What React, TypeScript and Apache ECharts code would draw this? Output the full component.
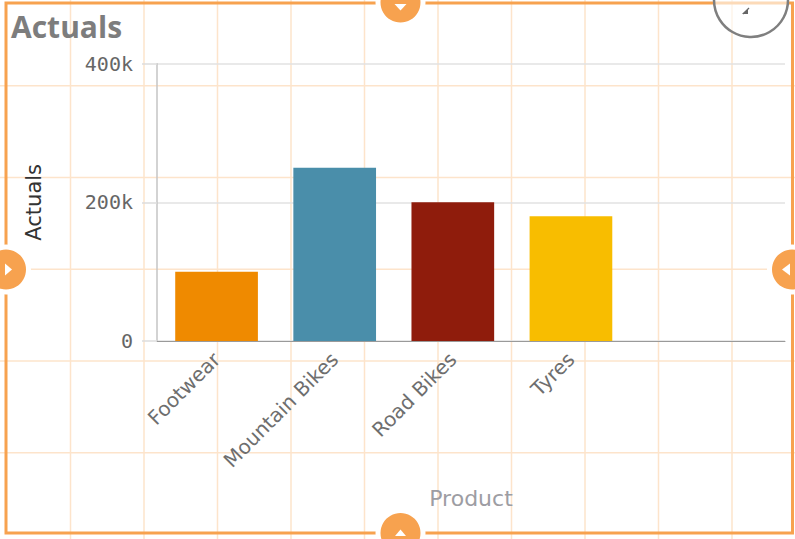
import React, { useEffect, useRef } from "react";
import * as echarts from "echarts";

const categories = ["Footwear", "Mountain Bikes", "Road Bikes", "Tyres"];
const actuals = [100000, 250000, 200000, 180000];
const barColors = ["#ef8a00", "#4a8eaa", "#8f1c0c", "#f8bd00"];
const yTicks = [0, 200000, 400000];

const W = 795;
const H = 539;
const ORANGE = "#f7a24f";
const GRIDORANGE = "#fde4cb";

function buildGraphics() {
  const g: any[] = [];
  // background editing grid
  for (let i = 0; i < 10; i++) {
    const x = 70.5 + i * 73.5;
    g.push({ type: "line", z: -100, silent: true, shape: { x1: x, y1: 0, x2: x, y2: H }, style: { stroke: GRIDORANGE, lineWidth: 1.5 } });
  }
  for (let i = 0; i < 5; i++) {
    const y = 85.7 + i * 91.75;
    g.push({ type: "line", z: -100, silent: true, shape: { x1: 0, y1: y, x2: W, y2: y }, style: { stroke: GRIDORANGE, lineWidth: 1.5 } });
  }
  // frame
  g.push({ type: "rect", z: 100, silent: true, shape: { x: 6, y: 3, width: 786.5, height: 530 }, style: { fill: "none", stroke: ORANGE, lineWidth: 3 } });
  // handles
  const handles = [
    { cx: 400.5, cy: 2.5, tri: [[394.5, 4], [406.5, 4], [400.5, 10.5]] },
    { cx: 400.5, cy: 533, tri: [[395, 536], [406, 536], [400.5, 529.5]] },
    { cx: 6, cy: 269.5, tri: [[5, 263.5], [5, 275.5], [12, 269.5]] },
    { cx: 792, cy: 269.5, tri: [[782, 269.5], [790, 263.5], [790, 275.5]] },
  ];
  handles.forEach((h) => {
    g.push({ type: "circle", z: 101, silent: true, shape: { cx: h.cx, cy: h.cy, r: 25 }, style: { fill: "#ffffff" } });
    g.push({ type: "circle", z: 102, silent: true, shape: { cx: h.cx, cy: h.cy, r: 20 }, style: { fill: ORANGE } });
    g.push({ type: "polygon", z: 103, silent: true, shape: { points: h.tri }, style: { fill: "#ffffff" } });
  });
  // top-right circle button
  g.push({ type: "circle", z: 104, silent: true, shape: { cx: 751, cy: 0, r: 37 }, style: { fill: "rgba(255,255,255,0.6)", stroke: "#7f7f7f", lineWidth: 2.5 } });
  g.push({ type: "polygon", z: 105, silent: true, shape: { points: [[742, 14], [748, 14], [748, 9]] }, style: { fill: "#666666" } });
  g.push({ type: "line", z: 105, silent: true, shape: { x1: 743, y1: 14, x2: 749, y2: 8 }, style: { stroke: "#666666", lineWidth: 1.2 } });
  return g;
}

export default function App() {
  const ref = useRef<HTMLDivElement>(null);
  useEffect(() => {
    if (!ref.current) return;
    const chart = echarts.init(ref.current, undefined, { renderer: "svg" });
    const fmt = (v: number) => (v === 0 ? "0" : v / 1000 + "k");
    chart.setOption({
      animation: false,
      backgroundColor: "#ffffff",
      title: {
        text: "Actuals",
        left: 6,
        top: 6,
        textStyle: { fontFamily: "Open Sans", fontWeight: "bold", fontSize: 30, color: "#7d7d7d" },
      },
      grid: [
        { left: 157.5, right: 165, top: 63.7, bottom: 198 },
        { left: 157, right: 10, top: 63.7, bottom: 198 },
      ],
      xAxis: [
        {
          type: "category",
          gridIndex: 0,
          data: categories,
          axisLine: { show: false },
          axisTick: { show: false },
          axisLabel: { rotate: 45, margin: 15, fontSize: 20, color: "#6e6e6e", fontFamily: "DejaVu Sans", interval: 0 },
        },
        {
          type: "value",
          gridIndex: 1,
          min: 0,
          max: 1,
          axisLine: { show: true, lineStyle: { color: "#9a9a9a", width: 1 } },
          axisTick: { show: false },
          axisLabel: { show: false },
          splitLine: { show: false },
          name: "Product",
          nameLocation: "middle",
          nameGap: 146,
          nameTextStyle: { fontSize: 22, color: "#9d9da3", fontFamily: "DejaVu Sans" },
        },
      ],
      yAxis: [
        { type: "value", gridIndex: 0, min: 0, max: 400000, show: false },
        {
          type: "value",
          gridIndex: 1,
          min: 0,
          max: 400000,
          interval: 200000,
          axisLine: { show: true, lineStyle: { color: "#c4c4c4", width: 1.5 } },
          axisTick: { show: true, length: 15, lineStyle: { color: "#dcdcdc", width: 1.5 } },
          splitLine: { show: true, lineStyle: { color: "#e2e2e2", width: 1.5 } },
          axisLabel: {
            formatter: fmt,
            margin: 24,
            fontSize: 20,
            color: "#666666",
            fontFamily: "DejaVu Sans Mono",
            customValues: yTicks,
          },
          name: "Actuals",
          nameLocation: "middle",
          nameGap: 113,
          nameTextStyle: { fontSize: 21, color: "#333333", fontFamily: "DejaVu Sans" },
        },
      ],
      series: [
        {
          type: "bar",
          xAxisIndex: 0,
          yAxisIndex: 0,
          barWidth: "70%",
          data: actuals.map((v, i) => ({ value: v, itemStyle: { color: barColors[i] } })),
        },
      ],
      graphic: { elements: buildGraphics() },
    });
    return () => chart.dispose();
  }, []);
  return <div ref={ref} style={{ position: "absolute", left: 0, top: 0, width: W, height: H }} />;
}
